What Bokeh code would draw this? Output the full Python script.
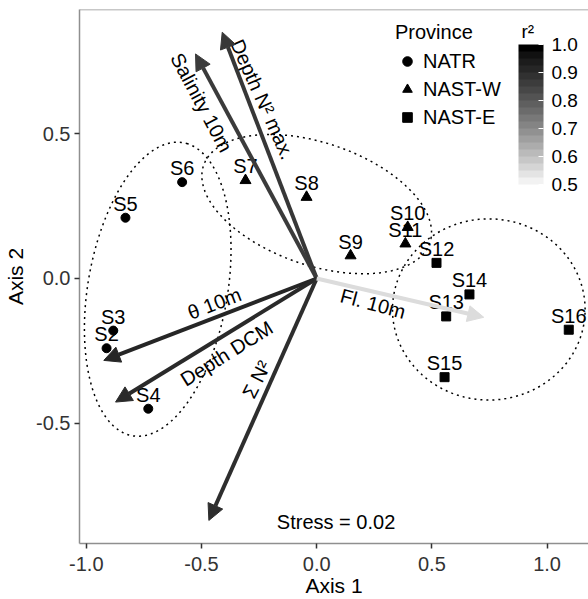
import numpy as np
from bokeh.plotting import figure
from bokeh.models import (Arrow, NormalHead, ColorBar, LinearColorMapper, FixedTicker,
                          PrintfTickFormatter, Span, ColumnDataSource, Label)
from bokeh.core.properties import value
from bokeh.embed import file_html
from bokeh.resources import INLINE

# ---------------- data ----------------
stations = ["S2", "S3", "S4", "S5", "S6", "S7", "S8", "S9", "S10", "S11",
            "S12", "S13", "S14", "S15", "S16"]
axis1 = [-0.912, -0.883, -0.731, -0.830, -0.584, -0.309, -0.044, 0.147, 0.395, 0.385,
         0.520, 0.562, 0.663, 0.555, 1.094]
axis2 = [-0.241, -0.180, -0.450, 0.210, 0.333, 0.339, 0.281, 0.079, 0.177, 0.120,
         0.054, -0.131, -0.055, -0.341, -0.177]
province = ["NATR"] * 5 + ["NAST-W"] * 5 + ["NAST-E"] * 5

provinces = ["NATR", "NAST-W", "NAST-E"]
markers = ["circle", "triangle", "square"]
marker_sizes = [9, 11, 9]

vectors = ["Depth N\u00b2 max.", "Salinity 10m", "\u03b8 10m", "Depth DCM", "\u03a3 N\u00b2", "Fl. 10m"]
vec_x = [-0.410, -0.526, -0.924, -0.873, -0.468, 0.725]
vec_y = [0.851, 0.776, -0.283, -0.427, -0.836, -0.134]
vec_r2 = [0.88, 0.87, 0.92, 0.91, 0.90, 0.54]

vec_label_x = [-0.235, -0.500, -0.444, -0.391, -0.261, 0.244]
vec_label_y = [0.619, 0.608, -0.086, -0.259, -0.349, -0.087]
vec_label_angle = [-66, -62, 21, 32, 63, -15]

ell_group = ["NATR", "NAST-W", "NAST-E"]
ell_cx = [-0.690, 0.000, 0.747]
ell_cy = [-0.037, 0.257, -0.107]
ell_a = [0.519, 0.510, 0.418]
ell_b = [0.300, 0.215, 0.313]
ell_angle = [75.5, -13.5, 0.0]

stress_text = "Stress = 0.02"
stress_x, stress_y = 0.084, -0.843

x_ticks = [-1.0, -0.5, 0.0, 0.5, 1.0]
y_ticks = [-0.5, 0.0, 0.5]
r2_ticks = [0.5, 0.6, 0.7, 0.8, 0.9, 1.0]
r2_low, r2_high = 0.5, 1.0

FONT = "Liberation Sans"


def lab_grey(L):
    Y = ((L + 16) / 116) ** 3 if L > 8 else L / 903.3
    c = 12.92 * Y if Y <= 0.0031308 else 1.055 * Y ** (1 / 2.4) - 0.055
    v = int(round(max(0.0, min(1.0, c)) * 255))
    return "#%02x%02x%02x" % (v, v, v)


L_LOW = 95.5


def r2_colour(r):
    t = (r - r2_low) / (r2_high - r2_low)
    return lab_grey(L_LOW * (1 - t))


palette = [lab_grey(L_LOW * (1 - t)) for t in np.linspace(0, 1, 20)]

# ---------------- figure ----------------
p = figure(width=588, height=599, x_range=(-1.0295, 1.1797), y_range=(-0.9157, 0.9295),
           output_backend="svg", toolbar_location=None,
           min_border_left=79, min_border_right=0, min_border_top=9, min_border_bottom=55)
p.xgrid.visible = False
p.ygrid.visible = False
p.outline_line_color = None
p.background_fill_color = "white"
p.border_fill_color = "white"

# ellipses
for cx, cy, a, b, ang in zip(ell_cx, ell_cy, ell_a, ell_b, ell_angle):
    t = np.linspace(0, 2 * np.pi, 200)
    th = np.deg2rad(ang)
    ex = cx + a * np.cos(t) * np.cos(th) - b * np.sin(t) * np.sin(th)
    ey = cy + a * np.cos(t) * np.sin(th) + b * np.sin(t) * np.cos(th)
    p.line(ex, ey, line_color="black", line_width=1.5, line_dash="2 4")

# points by province
for prov, mk, sz in zip(provinces, markers, marker_sizes):
    idx = [i for i, pr in enumerate(province) if pr == prov]
    src = ColumnDataSource(dict(x=[axis1[i] for i in idx], y=[axis2[i] for i in idx]))
    p.scatter("x", "y", source=src, marker=mk, size=sz, fill_color="black",
              line_color="black", legend_label=prov)

# station labels
p.text(x=axis1, y=axis2, text=stations, text_align="center", text_baseline="middle",
       y_offset=-14, text_font=value(FONT), text_font_size="20px", text_color="black")

# vectors
for vx, vy, r in zip(vec_x, vec_y, vec_r2):
    col = r2_colour(r)
    p.add_layout(Arrow(x_start=0, y_start=0, x_end=vx, y_end=vy,
                       line_color=col, line_width=4,
                       end=NormalHead(size=16, fill_color=col, line_color=col, line_width=1)))

p.text(x=vec_label_x, y=vec_label_y, text=vectors, angle=vec_label_angle, angle_units="deg",
       text_align="center", text_baseline="middle", text_font=value(FONT),
       text_font_size="20px", text_color="black")

p.text(x=[stress_x], y=[stress_y], text=[stress_text], text_align="center",
       text_baseline="middle", text_font=value(FONT), text_font_size="20px",
       text_color="black")

# top border
p.add_layout(Span(location=0.9295, dimension="width", line_color="#8f8f8f", line_width=1.5))

# axes
p.xaxis.ticker = FixedTicker(ticks=x_ticks)
p.yaxis.ticker = FixedTicker(ticks=y_ticks)
p.xaxis.axis_label = "Axis 1"
p.yaxis.axis_label = "Axis 2"
for ax in (p.xaxis[0], p.yaxis[0]):
    ax.formatter = PrintfTickFormatter(format="%.1f")
    ax.axis_label_text_font = FONT
    ax.axis_label_text_font_size = "21px"
    ax.axis_label_text_font_style = "normal"
    ax.axis_label_text_color = "black"
    ax.major_label_text_font = FONT
    ax.major_label_text_font_size = "20px"
    ax.major_label_text_color = "#333333"
    ax.minor_tick_line_color = None
    ax.major_tick_in = 0
    ax.major_tick_out = 5
    ax.major_tick_line_color = "#333333"
    ax.major_tick_line_width = 1.5
    ax.axis_line_color = "#8f8f8f"
    ax.axis_line_width = 1.5
p.xaxis.major_label_standoff = 8
p.xaxis.axis_label_standoff = 0
p.yaxis.major_label_standoff = 4
p.yaxis.axis_label_standoff = 6

# legend
lg = p.legend[0]
lg.title = "Province"
lg.title_text_font = FONT
lg.title_text_font_size = "20px"
lg.title_text_font_style = "normal"
lg.title_text_color = "black"
lg.title_standoff = 5
lg.label_text_font = FONT
lg.label_text_font_size = "20px"
lg.label_text_color = "black"
lg.glyph_width = 24
lg.glyph_height = 24
lg.label_standoff = 4
lg.spacing = 4
lg.padding = 0
lg.margin = 0
lg.border_line_color = None
lg.background_fill_alpha = 0
lg.location = (316, 414)

# colour bar
mapper = LinearColorMapper(palette=palette, low=r2_low, high=r2_high)
cb = ColorBar(color_mapper=mapper, ticker=FixedTicker(ticks=r2_ticks),
              formatter=PrintfTickFormatter(format="%.1f"),
              major_label_text_font=FONT, major_label_text_font_size="19px",
              major_label_text_color="black", label_standoff=8,
              major_tick_line_color="white", major_tick_in=5, major_tick_out=0,
              minor_tick_line_color=None, bar_line_color=None,
              width=25, height=140, padding=0, margin=0,
              background_fill_color=None, border_line_color=None,
              location=(439, 359))
p.add_layout(cb)
p.add_layout(Label(x=0.889, y=0.852, text="r\u00b2", text_align="left", text_baseline="middle",
                   text_font=FONT, text_font_size="19px", text_color="black"))

open("out.html", "w").write(file_html(p, INLINE))
